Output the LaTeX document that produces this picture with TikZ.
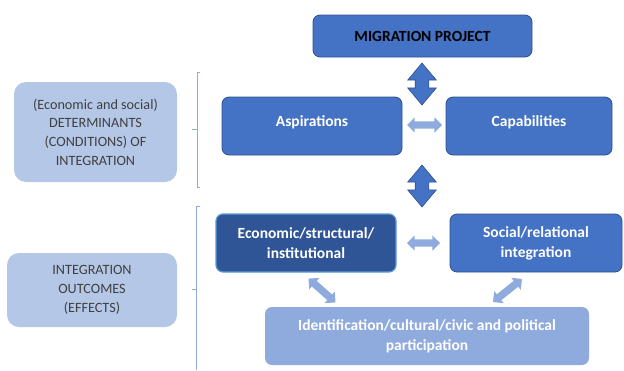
\documentclass[tikz,border=0pt]{standalone}
\usepackage{fontspec}
\setmainfont{Carlito}
\usetikzlibrary{shapes.arrows}
\definecolor{mblue}{HTML}{4472C4}
\definecolor{mborder}{HTML}{2F528F}
\definecolor{dblue}{HTML}{2F5597}
\definecolor{cborder}{HTML}{5B9BD5}
\definecolor{lblue}{HTML}{B4C7E7}
\definecolor{pblue}{HTML}{8FAADC}
\definecolor{brk}{HTML}{8FAADC}
\definecolor{gtext}{HTML}{404040}
\tikzset{
  mainbox/.style={draw=mborder, line width=0.8pt, fill=mblue, rounded corners=7pt, text=white,
    font=\fontsize{15.5}{20}\selectfont\bfseries, align=center, inner sep=0pt},
  sidebox/.style={fill=lblue, rounded corners=12pt, text=gtext,
    font=\fontsize{14.2}{18.7}\selectfont, align=center, inner sep=0pt},
  darrow/.style={double arrow, draw=mborder, fill=mblue, line width=0.6pt, inner sep=0pt,
    inner ysep=6.5pt, double arrow head extend=7.5pt, double arrow tip angle=80},
  larrow/.style={double arrow, fill=pblue, draw=none, inner sep=0pt,
    inner ysep=3.5pt, double arrow head extend=4pt, double arrow tip angle=90},
  bracket/.style={draw=brk, line width=0.8pt}
}
\begin{document}
\begin{tikzpicture}[x=1pt,y=-1pt]
\useasboundingbox (0,0) rectangle (624,370);
% main boxes
\node[mainbox, text=black, minimum width=219pt, minimum height=42pt] (mp) at (422.5,36) {MIGRATION PROJECT};
\node[mainbox, minimum width=180pt, minimum height=58pt] (asp) at (312,126) {Aspirations\\[-10pt]\mbox{}};
\node[mainbox, minimum width=166pt, minimum height=58pt] (cap) at (529,126) {Capabilities\\[-10pt]\mbox{}};
\node[mainbox, fill=dblue, draw=cborder, line width=1.2pt, minimum width=180pt, minimum height=58pt] (eco) at (306,243) {Economic/structural/\\institutional};
\node[mainbox, minimum width=172pt, minimum height=58pt] (soc) at (536,243) {Social/relational\\integration};
\node[mainbox, fill=pblue, draw=none, minimum width=324pt, minimum height=58pt] (idn) at (427,336) {Identification/cultural/civic and political\\participation};
% side boxes
\node[sidebox, minimum width=163pt, minimum height=100pt] (det) at (95.5,132) {(Economic and social)\\DETERMINANTS\\(CONDITIONS) OF\\INTEGRATION};
\node[sidebox, minimum width=170pt, minimum height=74pt] (out) at (92,290) {INTEGRATION\\OUTCOMES\\(EFFECTS)};
% dark double arrows
\node[darrow, rotate=90, minimum height=42pt, minimum width=28pt] (a1) at (422,84) {};
\node[darrow, rotate=90, minimum height=42pt, minimum width=28pt] (a2) at (422,186) {};
% light double arrows
\node[larrow, minimum height=35pt, minimum width=15pt] (h1) at (424.5,125) {};
\node[larrow, minimum height=33pt, minimum width=15pt] (h2) at (423.5,243) {};
\node[larrow, rotate=-41.5, minimum height=36pt, minimum width=14pt] (dl) at (322,290.5) {};
\node[larrow, rotate=38.4, minimum height=37pt, minimum width=14pt] (dr) at (507.5,290.5) {};
% brackets
\coordinate (b1t) at (197,72);
\coordinate (b1b) at (197,187);
\coordinate (b1m) at (197,129);
\draw[bracket] ([xshift=3pt]b1t) -- (b1t) -- (b1b) -- ([xshift=3pt]b1b);
\draw[bracket] (b1m) -- ([xshift=-5pt]b1m);
\coordinate (b2t) at (196,206);
\coordinate (b2b) at (196,370);
\coordinate (b2m) at (196,289);
\draw[bracket] ([xshift=4pt]b2t) -- (b2t) -- (b2b);
\draw[bracket] (b2m) -- ([xshift=-4pt]b2m);
\end{tikzpicture}
\end{document}
